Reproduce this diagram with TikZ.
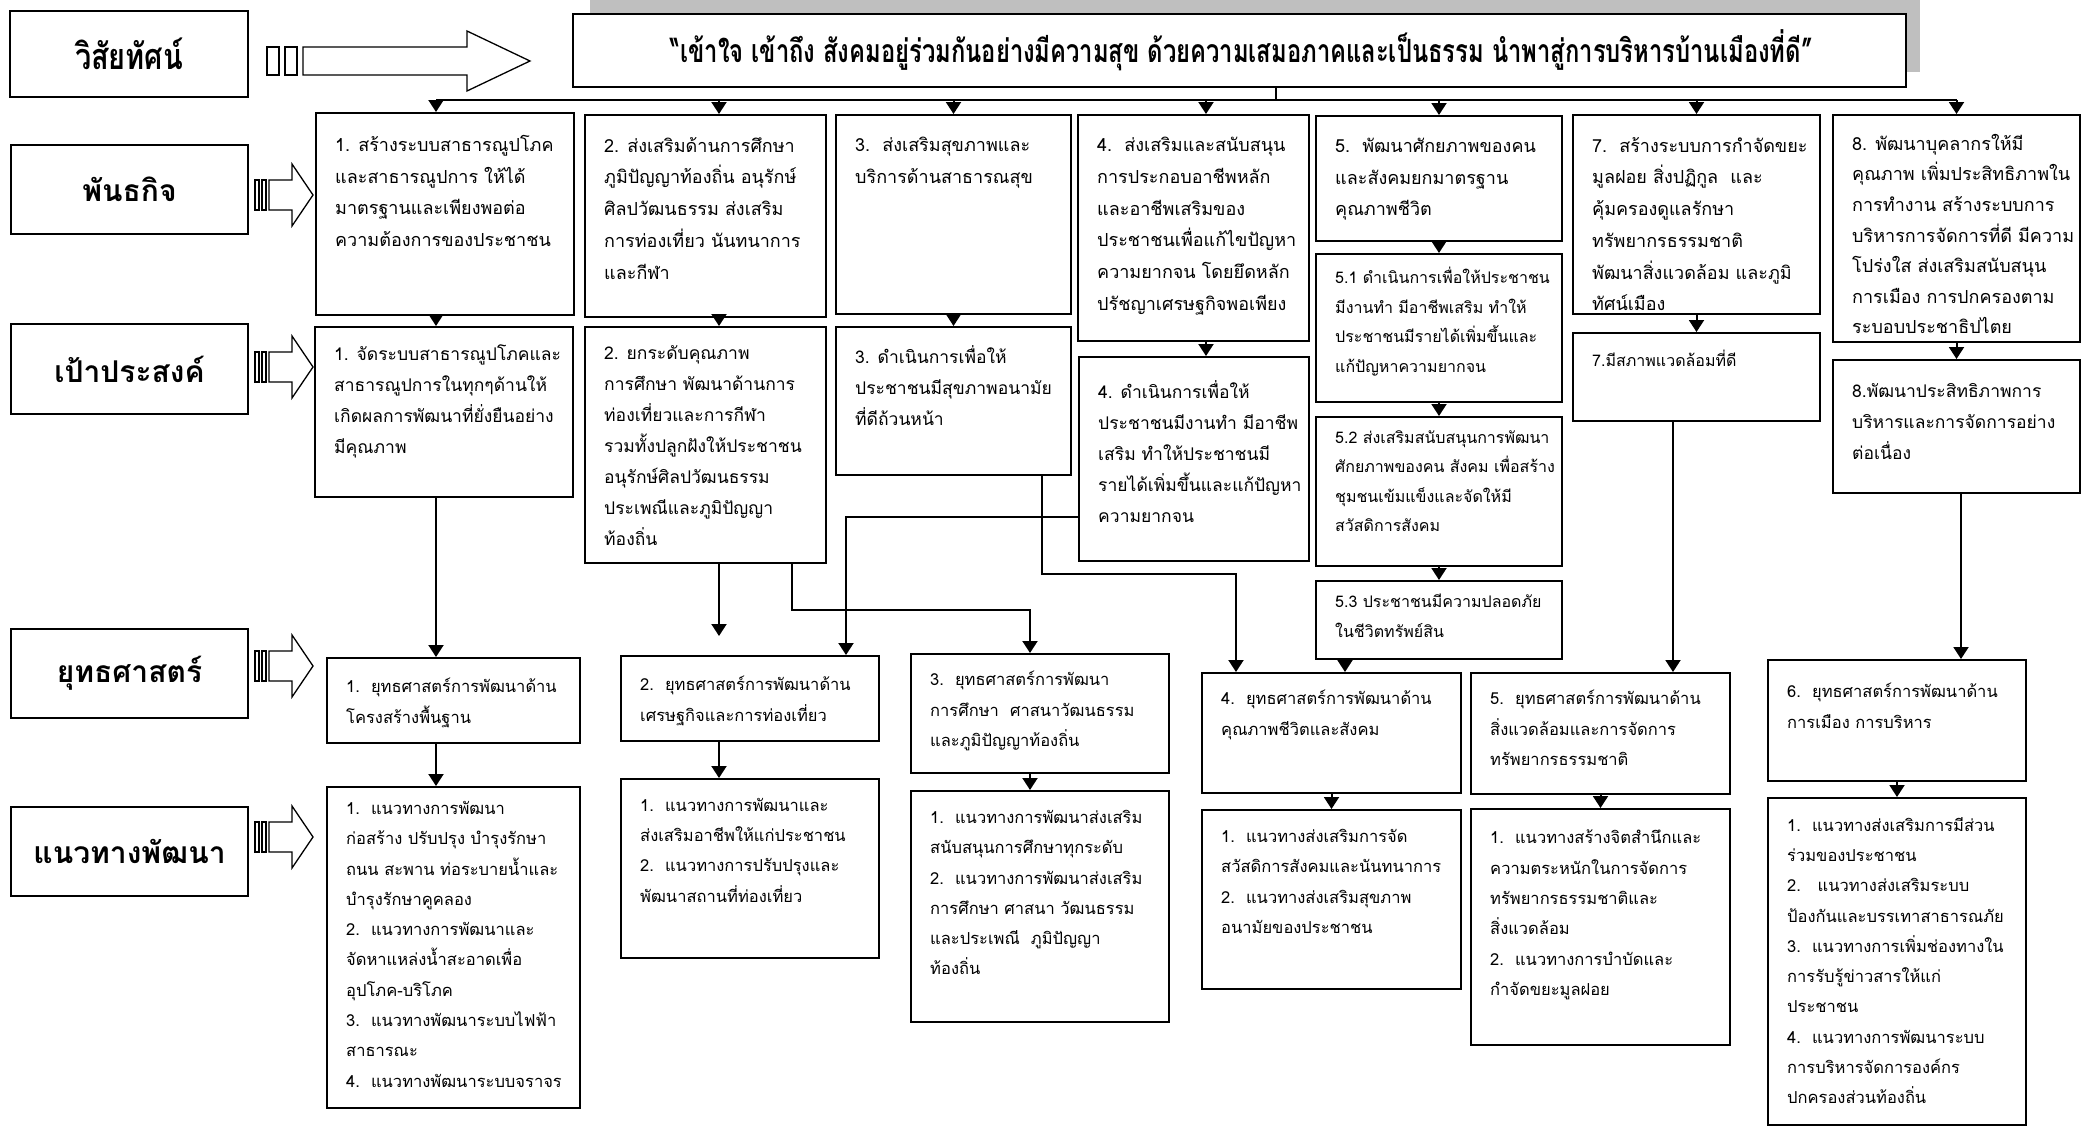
\documentclass[tikz,border=0pt]{standalone}
\usepackage{fontspec}
\usepackage{graphicx}
\setmainfont[Script=Thai]{Loma}
\usetikzlibrary{arrows.meta,fit,calc}
\definecolor{shadegray}{RGB}{191,191,191}
\tikzset{
 boxst/.style={draw=black, line width=2pt, fill=white, inner sep=0pt},
 tX/.style={anchor=north west, align=left, inner sep=0pt, xshift=20pt, execute at begin node={\rule{0pt}{20pt}}},
 tM/.style={tX, yshift=-23pt, font=\fontsize{18}{31.7}\selectfont},
 tO/.style={tX, yshift=-19pt, font=\fontsize{17.5}{31}\selectfont},
 tS/.style={tX, yshift=-14pt, font=\fontsize{16}{29.5}\selectfont},
 tSt/.style={tX, yshift=-21pt, font=\fontsize{16.5}{30.5}\selectfont},
 tG/.style={tX, yshift=-20pt, font=\fontsize{16.5}{30.3}\selectfont},
 lab/.style={inner sep=0pt, font=\bfseries\fontsize{30}{34}\selectfont},
 arr/.style={line width=2pt, -{Triangle[width=15pt,length=12pt]}},
 ln/.style={line width=2pt},
 hol/.style={line width=1.3pt, draw=black, fill=white},
}
\newcommand\tb[7]{\node[boxst, fit={(#3,#4) (#5,#6)}] (#2) {};\node[#1] at (#2.north west) {#7};}
\newcommand\sarr[1]{%
 \begin{scope}[yshift=-#1pt]
 \draw[hol] (255,-15) rectangle (259,15);
 \draw[hol] (262,-15) rectangle (266,15);
 \draw[hol] (269,-15) -- (292,-15) -- (292,-31) -- (313,0) -- (292,31) -- (292,15) -- (269,15) -- cycle;
 \end{scope}}
\begin{document}
\begin{tikzpicture}[x=1pt,y=-1pt]
\useasboundingbox (0,0) rectangle (2089,1127);
\fill[white] (0,0) rectangle (2089,1127);
% ---- vision row
\fill[shadegray] (590,0) rectangle (1920,72);
\node[boxst, fit={(573,14) (1906,87)}] (VT) {};
\node[inner sep=0pt, font=\bfseries\fontsize{32}{36}\selectfont, xshift=2pt] at (VT.center) {\resizebox{1142pt}{\height}{“เข้าใจ เข้าถึง สังคมอยู่ร่วมกันอย่างมีความสุข ด้วยความเสมอภาคและเป็นธรรม นำพาสู่การบริหารบ้านเมืองที่ดี”}};
\node[boxst, fit={(10,11) (248,97)}] (LV) {};
\node[lab, font=\bfseries\fontsize{36}{40}\selectfont] at (LV.center) {\resizebox{108pt}{\height}{วิสัยทัศน์}};
\draw[hol] (267,47) rectangle (279,75);
\draw[hol] (285,47) rectangle (297,75);
\draw[hol] (303,47) -- (467,47) -- (467,31) -- (530,61) -- (467,91) -- (467,75) -- (303,75) -- cycle;
% ---- left labels
\node[boxst, fit={(11,145) (248,234)}] (L1) {};
\node[lab] at (L1.center) {พันธกิจ};
\node[boxst, fit={(11,324) (248,414)}] (L2) {};
\node[lab] at (L2.center) {เป้าประสงค์};
\node[boxst, fit={(11,629) (248,718)}] (L3) {};
\node[lab] at (L3.center) {ยุทธศาสตร์};
\node[boxst, fit={(11,807) (248,896)}] (L4) {};
\node[lab] at (L4.center) {แนวทางพัฒนา};
\sarr{195}
\sarr{367}
\sarr{666}
\sarr{837}
% ---- missions
\tb{tM}{M1}{316}{113}{574}{315}{1. สร้างระบบสาธารณูปโภค\\และสาธารณูปการ ให้ได้\\มาตรฐานและเพียงพอต่อ\\ความต้องการของประชาชน}
\tb{tM}{M2}{585}{115}{826}{317}{2. ส่งเสริมด้านการศึกษา\\ภูมิปัญญาท้องถิ่น อนุรักษ์\\ศิลปวัฒนธรรม ส่งเสริม\\การท่องเที่ยว นันทนาการ\\และกีฬา}
\tb{tM}{M3}{836}{115}{1071}{314}{3.\ \ ส่งเสริมสุขภาพและ\\บริการด้านสาธารณสุข}
\tb{tM}{M4}{1078}{115}{1309}{341}{4.\ \ ส่งเสริมและสนับสนุน\\การประกอบอาชีพหลัก\\และอาชีพเสริมของ\\ประชาชนเพื่อแก้ไขปัญหา\\ความยากจน โดยยึดหลัก\\ปรัชญาเศรษฐกิจพอเพียง}
\tb{tM}{M5}{1316}{116}{1562}{241}{5.\ \ พัฒนาศักยภาพของคน\\และสังคมยกมาตรฐาน\\คุณภาพชีวิต}
\tb{tM}{M7}{1573}{115}{1820}{314}{7.\ \ สร้างระบบการกำจัดขยะ\\มูลฝอย สิ่งปฏิกูล\ \ และ\\คุ้มครองดูแลรักษา\\ทรัพยากรธรรมชาติ\\พัฒนาสิ่งแวดล้อม และภูมิ\\ทัศน์เมือง}
\tb{tM,yshift=3pt,font=\fontsize{18}{30.6}\selectfont}{M8}{1833}{115}{2080}{342}{8. พัฒนาบุคลากรให้มี\\คุณภาพ เพิ่มประสิทธิภาพใน\\การทำงาน สร้างระบบการ\\บริหารการจัดการที่ดี มีความ\\โปร่งใส ส่งเสริมสนับสนุน\\การเมือง การปกครองตาม\\ระบอบประชาธิปไตย}
% ---- objectives
\tb{tO}{O1}{315}{327}{573}{497}{1. จัดระบบสาธารณูปโภคและ\\สาธารณูปการในทุกๆด้านให้\\เกิดผลการพัฒนาที่ยั่งยืนอย่าง\\มีคุณภาพ}
\tb{tO}{O2}{585}{327}{826}{563}{2. ยกระดับคุณภาพ\\การศึกษา พัฒนาด้านการ\\ท่องเที่ยวและการกีฬา\\รวมทั้งปลูกฝังให้ประชาชน\\อนุรักษ์ศิลปวัฒนธรรม\\ประเพณีและภูมิปัญญา\\ท้องถิ่น}
\tb{tO}{O3}{836}{327}{1071}{475}{3. ดำเนินการเพื่อให้\\ประชาชนมีสุขภาพอนามัย\\ที่ดีถ้วนหน้า}
\tb{tO,yshift=-5pt}{O4}{1079}{357}{1309}{561}{4. ดำเนินการเพื่อให้\\ประชาชนมีงานทำ มีอาชีพ\\เสริม ทำให้ประชาชนมี\\รายได้เพิ่มขึ้นและแก้ปัญหา\\ความยากจน}
\tb{tS}{F51}{1316}{254}{1562}{402}{5.1 ดำเนินการเพื่อให้ประชาชน\\มีงานทำ มีอาชีพเสริม ทำให้\\ประชาชนมีรายได้เพิ่มขึ้นและ\\แก้ปัญหาความยากจน}
\tb{tS}{F52}{1316}{417}{1562}{566}{5.2 ส่งเสริมสนับสนุนการพัฒนา\\ศักยภาพของคน สังคม เพื่อสร้าง\\ชุมชนเข้มแข็งและจัดให้มี\\สวัสดิการสังคม}
\tb{tS}{F53}{1316}{581}{1562}{659}{5.3 ประชาชนมีความปลอดภัย\\ในชีวิตทรัพย์สิน}
\tb{tS}{O7}{1573}{333}{1820}{421}{7.มีสภาพแวดล้อมที่ดี}
\tb{tO,yshift=-5pt}{O8}{1833}{360}{2080}{493}{8.พัฒนาประสิทธิภาพการ\\บริหารและการจัดการอย่าง\\ต่อเนื่อง}
% ---- strategies
\tb{tSt}{S1}{327}{658}{580}{743}{1.\ \ ยุทธศาสตร์การพัฒนาด้าน\\โครงสร้างพื้นฐาน}
\tb{tSt}{S2}{621}{656}{879}{741}{2.\ \ ยุทธศาสตร์การพัฒนาด้าน\\เศรษฐกิจและการท่องเที่ยว}
\tb{tSt,yshift=3pt}{S3}{911}{654}{1169}{773}{3.\ \ ยุทธศาสตร์การพัฒนา\\การศึกษา\ \ ศาสนาวัฒนธรรม\\และภูมิปัญญาท้องถิ่น}
\tb{tSt,yshift=3pt}{S4}{1202}{673}{1461}{793}{4.\ \ ยุทธศาสตร์การพัฒนาด้าน\\คุณภาพชีวิตและสังคม}
\tb{tSt,yshift=3pt}{S5}{1471}{673}{1730}{794}{5.\ \ ยุทธศาสตร์การพัฒนาด้าน\\สิ่งแวดล้อมและการจัดการ\\ทรัพยากรธรรมชาติ}
\tb{tSt,yshift=-3pt}{S6}{1768}{660}{2026}{781}{6.\ \ ยุทธศาสตร์การพัฒนาด้าน\\การเมือง การบริหาร}
% ---- guidelines
\tb{tG,yshift=5pt}{G1}{327}{787}{580}{1108}{1.\ \ แนวทางการพัฒนา\\ก่อสร้าง ปรับปรุง บำรุงรักษา\\ถนน สะพาน ท่อระบายน้ำและ\\บำรุงรักษาคูคลอง\\2.\ \ แนวทางการพัฒนาและ\\จัดหาแหล่งน้ำสะอาดเพื่อ\\อุปโภค-บริโภค\\3.\ \ แนวทางพัฒนาระบบไฟฟ้า\\สาธารณะ\\4.\ \ แนวทางพัฒนาระบบจราจร}
\tb{tG}{G2}{621}{779}{879}{958}{1.\ \ แนวทางการพัฒนาและ\\ส่งเสริมอาชีพให้แก่ประชาชน\\2.\ \ แนวทางการปรับปรุงและ\\พัฒนาสถานที่ท่องเที่ยว}
\tb{tG}{G3}{911}{791}{1169}{1022}{1.\ \ แนวทางการพัฒนาส่งเสริม\\สนับสนุนการศึกษาทุกระดับ\\2.\ \ แนวทางการพัฒนาส่งเสริม\\การศึกษา ศาสนา วัฒนธรรม\\และประเพณี\ \ ภูมิปัญญา\\ท้องถิ่น}
\tb{tG}{G4}{1202}{810}{1461}{989}{1.\ \ แนวทางส่งเสริมการจัด\\สวัสดิการสังคมและนันทนาการ\\2.\ \ แนวทางส่งเสริมสุขภาพ\\อนามัยของประชาชน}
\tb{tG,yshift=-2pt}{G5}{1471}{809}{1730}{1045}{1.\ \ แนวทางสร้างจิตสำนึกและ\\ความตระหนักในการจัดการ\\ทรัพยากรธรรมชาติและ\\สิ่งแวดล้อม\\2.\ \ แนวทางการบำบัดและ\\กำจัดขยะมูลฝอย}
\tb{tG}{G6}{1768}{798}{2026}{1125}{1.\ \ แนวทางส่งเสริมการมีส่วน\\ร่วมของประชาชน\\2.\ \ \ แนวทางส่งเสริมระบบ\\ป้องกันและบรรเทาสาธารณภัย\\3.\ \ แนวทางการเพิ่มช่องทางใน\\การรับรู้ข่าวสารให้แก่\\ประชาชน\\4.\ \ แนวทางการพัฒนาระบบ\\การบริหารจัดการองค์กร\\ปกครองส่วนท้องถิ่น}
% ---- column x positions
\coordinate (c1) at (436,0);
\coordinate (c2) at (719,0);
\coordinate (c3) at (1030,0);
\coordinate (c4) at (1206,0);
% ---- connectors: vision to missions
\coordinate (bus) at (1276,100);
\draw[ln] (VT.south -| bus) -- (bus);
\draw[ln] (bus -| c1) -- (bus -| M8.north);
\draw[arr] (bus -| c1) -- (M1.north -| c1);
\draw[arr] (bus -| c2) -- (M2.north -| c2);
\draw[arr] (bus -| c4) -- (M4.north -| c4);
\foreach \n in {M3,M5,M7,M8} \draw[arr] (bus -| \n.north) -- (\n.north);
% missions to objectives
\draw[arr] (M1.south -| c1) -- (O1.north -| c1);
\draw[arr] (M2.south -| c2) -- (O2.north -| c2);
\draw[arr] (M4.south -| c4) -- (O4.north -| c4);
\foreach \a/\b in {M3/O3,M5/F51,F51/F52,F52/F53,M7/O7,M8/O8}
  \draw[arr] (\a.south) -- (\a.south |- \b.north);
% objectives to strategies
\draw[arr] (O1.south -| c1) -- (S1.north -| c1);
\coordinate (p1) at (719,636);
\draw[arr] (O2.south -| p1) -- (p1);
\coordinate (p2) at (792,610);
\draw[arr] (O2.south -| p2) -- (p2) -| (S3.north -| c3);
\coordinate (p3) at (1042,574);
\coordinate (p4) at (1236,574);
\draw[arr] (O3.south -| p3) -- (p3) -- (p4) -- (S4.north -| p4);
\coordinate (p5) at (846,517);
\draw[arr] (O4.west |- p5) -- (p5) -- (S2.north -| p5);
\coordinate (p6) at (1345,0);
\draw[arr] (F53.south -| p6) -- (S4.north -| p6);
\coordinate (p7) at (1673,0);
\draw[arr] (O7.south -| p7) -- (S5.north -| p7);
\coordinate (p8) at (1961,0);
\draw[arr] (O8.south -| p8) -- (S6.north -| p8);
% strategies to guidelines
\draw[arr] (S1.south -| c1) -- (G1.north -| c1);
\draw[arr] (S2.south -| c2) -- (G2.north -| c2);
\draw[arr] (S3.south -| c3) -- (G3.north -| c3);
\foreach \a/\b in {S4/G4,S5/G5,S6/G6}
  \draw[arr] (\a.south) -- (\a.south |- \b.north);
\end{tikzpicture}
\end{document}
